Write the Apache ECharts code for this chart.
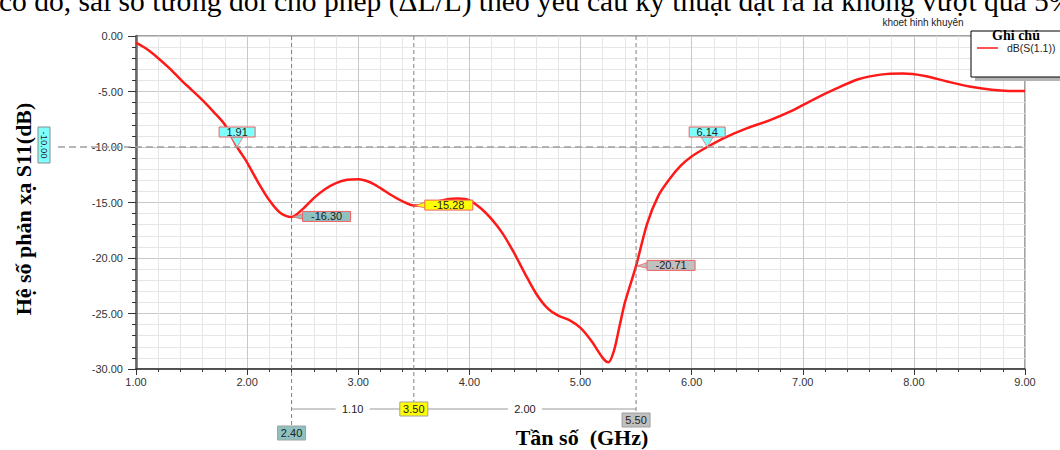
<!DOCTYPE html>
<html><head><meta charset="utf-8">
<script src="https://cdn.jsdelivr.net/npm/echarts@6/dist/echarts.min.js"></script>
<style>html,body{margin:0;padding:0;background:#fff;}#c{width:1060px;height:450px;}</style>
</head><body><div id="c"></div>
<script>
// ---- data ----
const freqGHz = [1.0,1.1,1.2,1.3,1.4,1.5,1.6,1.7,1.8,1.91,2.0,2.1,2.2,2.3,2.4,2.5,2.6,2.7,2.8,2.9,3.0,3.1,3.2,3.3,3.4,3.5,3.6,3.7,3.8,3.9,4.0,4.1,4.2,4.3,4.4,4.5,4.6,4.7,4.8,4.9,5.0,5.1,5.2,5.25,5.3,5.35,5.4,5.5,5.6,5.7,5.8,5.9,6.0,6.14,6.3,6.5,6.7,6.9,7.1,7.3,7.5,7.7,7.9,8.1,8.3,8.5,8.7,8.85,9.0];
const s11dB = [-0.6,-1.2,-2.0,-2.9,-3.9,-4.85,-5.8,-6.85,-8.0,-10.0,-11.4,-13.2,-14.8,-15.95,-16.30,-15.6,-14.6,-13.8,-13.25,-12.95,-12.9,-13.15,-13.7,-14.35,-14.9,-15.28,-15.2,-14.95,-14.7,-14.65,-14.8,-15.5,-16.5,-17.8,-19.5,-21.4,-23.2,-24.5,-25.2,-25.6,-26.3,-27.5,-29.0,-29.4,-28.4,-26.2,-24.0,-20.71,-16.9,-14.4,-12.9,-11.7,-10.85,-10.0,-9.15,-8.3,-7.6,-6.75,-5.7,-4.75,-3.9,-3.48,-3.38,-3.6,-4.1,-4.55,-4.85,-4.95,-4.95];
const seriesName = 'dB(S(1.1))';
const xRange = [1, 9];
const yRange = [-30, 0];
const thresholdDB = -10;
const thresholdLabel = '-10.00';
const crossFreqs = [1.91, 6.14];
const markerFreqs = [2.40, 3.50, 5.50];
const markerValues = [-16.30, -15.28, -20.71];
const chartTitle = 'khoet hinh khuyên';
const legendTitle = 'Ghi chú';
const yAxisName = 'Hệ số phản xạ S11(dB)';
const xAxisName = 'Tần số  (GHz)';
const topText = 'có đó, sai số tương đối cho phép (ΔL/L) theo yêu cầu kỹ thuật đặt ra là không vượt quá 5%';

const chart = echarts.init(document.getElementById('c'), null, {renderer:'svg'});
const lblFont = 'Liberation Sans, Arial, sans-serif';
const serif = 'Liberation Serif, Times New Roman, serif';
chart.setOption({
  animation:false,
  grid:{left:136, top:36, width:889, height:333, show:true, borderColor:'#444', borderWidth:1, backgroundColor:'transparent'},
  xAxis:{type:'value', min:xRange[0], max:xRange[1], interval:1,
    axisLine:{show:true, onZero:false, lineStyle:{color:'#333', width:1.5}},
    axisTick:{show:true, length:6, lineStyle:{color:'#333'}},
    minorTick:{show:true, splitNumber:5, length:3, lineStyle:{color:'#333'}},
    splitLine:{show:true, lineStyle:{color:'#c8c8c8', width:1}},
    minorSplitLine:{show:true, lineStyle:{color:'#e6e6e6', width:1}},
    axisLabel:{margin:7, fontSize:11, color:'#333', fontFamily:lblFont, formatter:v=>v.toFixed(2)}},
  yAxis:{type:'value', min:yRange[0], max:yRange[1], interval:5,
    axisLine:{show:true, onZero:false, lineStyle:{color:'#666', width:2.5}},
    axisTick:{show:true, length:8, lineStyle:{color:'#333'}},
    minorTick:{show:true, splitNumber:5, length:4, lineStyle:{color:'#333'}},
    splitLine:{show:true, lineStyle:{color:'#c8c8c8', width:1}},
    minorSplitLine:{show:true, lineStyle:{color:'#e6e6e6', width:1}},
    axisLabel:{margin:13, fontSize:11, color:'#333', fontFamily:lblFont, formatter:v=>v.toFixed(2)}},
  series:[{name:seriesName, type:'line', showSymbol:false, smooth:0.3,
    data:freqGHz.map((f,i)=>[f, s11dB[i]]),
    lineStyle:{color:'#ff1a1a', width:2.5}, z:3}]
});

function P(x,y){ return chart.convertToPixel({xAxisIndex:0, yAxisIndex:0}, [x,y]); }
function txt(x,y,text,font,fill,align,valign,extra){
  return Object.assign({type:'text', x:x, y:y, z:20, style:{text:text, font:font, fill:fill||'#222', align:align||'center', verticalAlign:valign||'middle', textAlign:align||'center', textVerticalAlign:valign||'middle'}}, extra||{});
}
function box(cx,cy,w,h,fill,stroke){
  return {type:'rect', z:19, shape:{x:cx-w/2, y:cy-h/2, width:w, height:h}, style:{fill:fill, stroke:stroke, lineWidth:1}};
}
const g = [];
const [xL, yTop] = P(xRange[0], yRange[1]);
const [xR, yBot] = P(xRange[1], yRange[0]);
const y10 = P(xRange[0], thresholdDB)[1];
// threshold line
g.push({type:'line', z:4, shape:{x1:58, y1:y10, x2:xR, y2:y10}, style:{stroke:'#a0a0a0', lineWidth:1.5, lineDash:[7,4]}});
g.push(box(44, y10-2, 12, 36, '#80ffff', '#8a8a8a'));
g.push(txt(44, y10-2, thresholdLabel, '9.5px '+lblFont, '#222', 'center','middle', {rotation:-Math.PI/2}));
// crossings
crossFreqs.forEach(f=>{
  const [px,py] = P(f, thresholdDB);
  g.push({type:'polygon', z:18, shape:{points:[[px-6,py-10],[px+6,py-10],[px,py]]}, style:{fill:'#80ffff', stroke:'#f07070', lineWidth:0.8}});
  g.push(box(px, py-15, 36, 10, '#80ffff', '#f06060'));
  g.push(txt(px, py-15, f.toFixed(2), '11px '+lblFont));
});
// vertical marker lines + bottom boxes
const markFill = ['#8fc1c1','#ffff00','#c0c0c0'];
const bottomOffsets = [64, 40, 51];
markerFreqs.forEach((f,i)=>{
  const px = P(f, 0)[0];
  const cy = yBot + bottomOffsets[i];
  g.push({type:'line', z:4, shape:{x1:px, y1:yTop, x2:px, y2:cy-7}, style:{stroke:'#808080', lineWidth:1, lineDash:[4,3]}});
  g.push(box(px, cy, 28, 14, markFill[i], '#a0a0a0'));
  g.push(txt(px, cy, f.toFixed(2), '11px '+lblFont));
  const [qx,qy] = P(f, markerValues[i]);
  const bx = qx + 11, w = 48, cy2 = qy - 0.5;
  g.push({type:'polygon', z:18, shape:{points:[[qx+1,qy],[bx+1,cy2-3],[bx+1,cy2+3]]}, style:{fill:markFill[i], stroke:'#f06060', lineWidth:0.8}});
  g.push(box(bx + w/2, cy2, w, 10, markFill[i], '#f06060'));
  g.push(txt(bx + w/2, cy2, markerValues[i].toFixed(2), '11px '+lblFont));
});
// delta line
const dy = yBot + 40;
const mx = markerFreqs.map(f=>P(f,0)[0]);
g.push({type:'line', z:4, shape:{x1:mx[0], y1:dy, x2:mx[2], y2:dy}, style:{stroke:'#999', lineWidth:1}});
for (let i=0;i<2;i++){
  const cx = (mx[i]+mx[i+1])/2;
  g.push({type:'rect', z:15, shape:{x:cx-17, y:dy-6, width:34, height:12}, style:{fill:'#fff'}});
  g.push(txt(cx, dy, (markerFreqs[i+1]-markerFreqs[i]).toFixed(2), '11px '+lblFont));
}
// legend box
g.push({type:'rect', z:21, shape:{x:975, y:35, width:100, height:46}, style:{fill:'#b4b4b4'}});
g.push({type:'rect', z:22, shape:{x:971, y:31, width:100, height:46}, style:{fill:'#fff', stroke:'#000', lineWidth:1}});
g.push(txt(1016, 35, legendTitle, 'bold 14px '+serif, '#000', 'center','middle', {z:23}));
g.push({type:'line', z:23, shape:{x1:977, y1:48, x2:998, y2:48}, style:{stroke:'#ff1a1a', lineWidth:1.5}});
g.push(txt(1007, 48, seriesName, '10.5px '+lblFont, '#222', 'left','middle', {z:23}));
// title & axis names
g.push(txt(923, 22, chartTitle, '10px '+lblFont, '#222'));
g.push(txt(23, 209, yAxisName, 'bold 22px '+serif, '#000', 'center','middle', {rotation:Math.PI/2}));
g.push(txt(582, 437, xAxisName, 'bold 22px '+serif, '#000'));
g.push(txt(-1, 1, topText, '29.5px '+serif, '#000', 'left','middle'));
chart.setOption({graphic:g});
</script></body></html>
